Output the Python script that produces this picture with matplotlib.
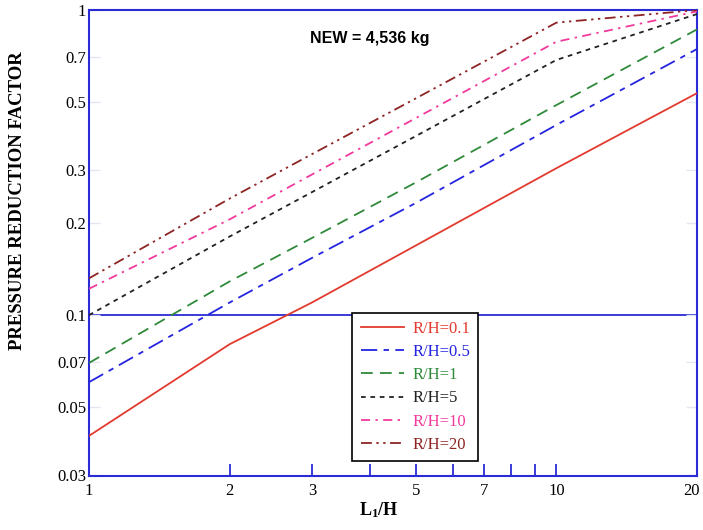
import matplotlib
matplotlib.use("Agg")
import matplotlib.pyplot as plt
import matplotlib.transforms as mtransforms
from matplotlib.ticker import FixedLocator, NullFormatter, NullLocator

plt.rcParams.update({
    "font.family": "Liberation Serif",
    "mathtext.fontset": "custom",
    "mathtext.rm": "Liberation Serif",
    "mathtext.bf": "Liberation Serif:bold",
})

# L1/H nodes and pressure reduction factor per R/H curve
L_H = [1, 2, 3, 5, 10, 20]
RH_LABELS = ["R/H=0.1", "R/H=0.5", "R/H=1", "R/H=5", "R/H=10", "R/H=20"]
PRF_01 = [0.0402, 0.0803, 0.110, 0.169, 0.303, 0.534]
PRF_05 = [0.0603, 0.110, 0.154, 0.233, 0.420, 0.745]
PRF_1 = [0.0697, 0.129, 0.179, 0.272, 0.488, 0.864]
PRF_5 = [0.100, 0.181, 0.253, 0.386, 0.686, 0.970]
PRF_10 = [0.122, 0.206, 0.289, 0.442, 0.787, 0.990]
PRF_20 = [0.132, 0.241, 0.337, 0.513, 0.909, 1.000]

X_TICKS = [1, 2, 3, 4, 5, 6, 7, 8, 9, 10, 20]
X_TICKLABELS = ["1", "2", "3", "", "5", "", "7", "", "", "10", "20"]
Y_TICKS = [0.03, 0.05, 0.07, 0.1, 0.2, 0.3, 0.5, 0.7, 1]
Y_TICKLABELS = ["0.03", "0.05", "0.07", "0.1", "0.2", "0.3", "0.5", "0.7", "1"]

AZUL = "#2b2bd6"
estilos = [
    ("#e23a2e", None),
    ("#2424e0", (0, (9, 3.5, 3, 3.5))),
    ("#2f8a3a", (0, (6.5, 4))),
    ("#222222", (0, (2.6, 2.6))),
    ("#f2399c", (0, (5, 3, 1.3, 3))),
    ("#8e2424", (0, (6, 2.5, 1.3, 2.5, 1.3, 2.5))),
]
series = [PRF_01, PRF_05, PRF_1, PRF_5, PRF_10, PRF_20]

fig = plt.figure(figsize=(7.03, 5.30), dpi=100)
ax = fig.add_axes([0.1266, 0.1019, 0.8649, 0.8792])
ax.set_xscale("log")
ax.set_yscale("log")
ax.set_xlim(1, 20)
ax.set_ylim(0.0297, 1.0)

ax.axhline(0.1, color=AZUL, lw=1.3, zorder=1)

for (col, dash), y, lab in zip(estilos, series, RH_LABELS):
    ax.plot(L_H, y, color=col, lw=1.3, linestyle=dash if dash else "-",
            label=lab, zorder=3)

for s in ax.spines.values():
    s.set_color(AZUL)
    s.set_linewidth(1.5)

ax.xaxis.set_major_locator(FixedLocator(X_TICKS))
ax.set_xticklabels(X_TICKLABELS)
ax.xaxis.set_minor_locator(NullLocator())
ax.xaxis.set_minor_formatter(NullFormatter())
ax.tick_params(axis="x", direction="in", length=9, width=1.3, color=AZUL,
               labelsize=12, pad=5)
# la etiqueta "20" queda pegada al borde derecho: se corre un poco
ultima = ax.get_xticklabels()[-1]
ultima.set_transform(ultima.get_transform() +
                     mtransforms.ScaledTranslation(-6 / 100, 0, fig.dpi_scale_trans))

ax.yaxis.set_major_locator(FixedLocator(Y_TICKS))
ax.set_yticklabels(Y_TICKLABELS)
ax.yaxis.set_minor_locator(NullLocator())
ax.yaxis.set_minor_formatter(NullFormatter())
ax.tick_params(axis="y", direction="in", length=8, width=1.0, color="#e4e6f2",
               labelsize=12, pad=2, right=True)

fig.text(18 / 703, 1 - 201 / 530, "PRESSURE REDUCTION FACTOR", rotation=90,
         fontsize=13.5, fontweight="bold", ha="center", va="center")
fig.text(379 / 703, 1 - 510 / 530, r"$\mathbf{L_1/H}$", fontsize=13,
         ha="center", va="center")

ax.text(0.363, 0.938, "NEW = 4,536 kg", transform=ax.transAxes,
        family="Liberation Sans", fontweight="bold", fontsize=11.5,
        ha="left", va="center")

leg = ax.legend(loc="lower left", bbox_to_anchor=(0.433, 0.032),
                borderaxespad=0, fancybox=False, framealpha=1,
                edgecolor="black", fontsize=12, handlelength=2.6,
                handletextpad=0.5, labelspacing=0.43, borderpad=0.5)
leg.get_frame().set_linewidth(1.2)
leg.set_zorder(5)
for t, (col, _) in zip(leg.get_texts(), estilos):
    t.set_color(col)

fig.savefig("out.png", dpi=100)
